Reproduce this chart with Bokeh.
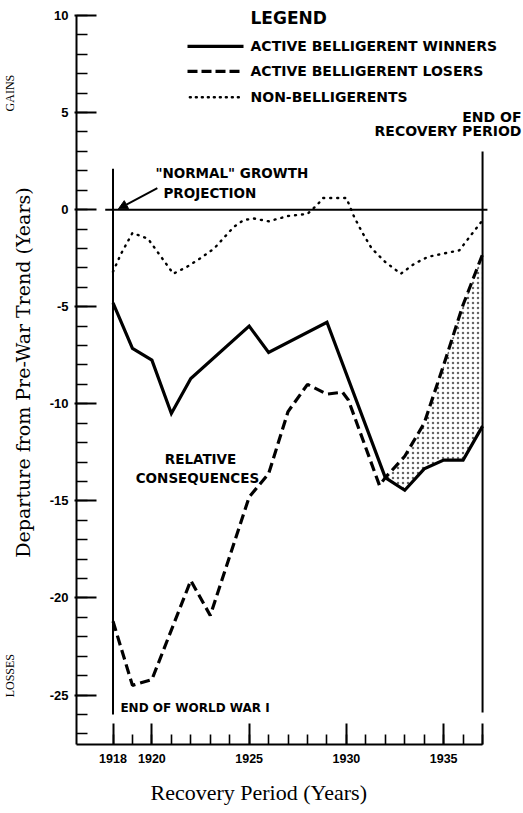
import math
from bokeh.plotting import figure
from bokeh.models import Range1d, FixedTicker, Label, Arrow, NormalHead, LinearAxis, Title
from bokeh.embed import file_html
from bokeh.resources import INLINE

# ---- data ----
winners_years = [1918, 1919, 1920, 1921, 1922, 1925, 1926, 1929, 1932, 1933, 1934, 1935, 1936, 1937]
winners_vals = [-4.8, -7.15, -7.75, -10.5, -8.7, -6.0, -7.35, -5.8, -13.8, -14.45, -13.35, -12.9, -12.9, -11.15]

losers_years = [1918, 1919, 1920, 1922, 1923, 1925, 1926, 1927, 1928, 1929, 1929.8, 1930.1,
                1931.7, 1932, 1933, 1934, 1935, 1936, 1937]
losers_vals = [-21.2, -24.5, -24.2, -19.1, -20.9, -14.8, -13.6, -10.4, -9.0, -9.5, -9.4, -9.8,
               -14.2, -13.8, -12.7, -11.0, -8.0, -4.9, -2.3]

nonbel_years = [1918, 1918.4, 1919, 1919.8, 1921.1, 1921.8, 1922.5, 1923.2, 1924.2, 1924.7, 1925.2,
                1926, 1927, 1928, 1928.5, 1928.8, 1930, 1930.4, 1930.8, 1931.3, 1932, 1932.8,
                1933.5, 1934.2, 1935, 1935.8, 1936.4, 1937]
nonbel_vals = [-3.2, -2.3, -1.2, -1.5, -3.3, -2.95, -2.5, -2.0, -0.9, -0.55, -0.45,
               -0.6, -0.33, -0.22, 0.25, 0.6, 0.6, -0.38, -1.15, -2.0, -2.7, -3.3,
               -2.78, -2.43, -2.26, -2.1, -1.32, -0.55]

war_end_year = 1918
recovery_end_year = 1937
shade_from_year = 1932

x_major_ticks = [1918, 1920, 1925, 1930, 1935, 1937]
x_minor_ticks = list(range(1918, 1938))
y_major_ticks = [-25, -20, -15, -10, -5, 0, 5, 10]
y_minor_ticks = list(range(-27, 11))

series_names = ["ACTIVE BELLIGERENT WINNERS", "ACTIVE BELLIGERENT LOSERS", "NON-BELLIGERENTS"]

# ---- figure ----
X0, X1 = 1916.123, 1939.105
Y0, Y1 = -27.545, 10.77
YTOP = 10.0
p = figure(width=523, height=813, x_range=Range1d(X0, X1), y_range=Range1d(Y0, Y1),
           output_backend="svg", toolbar_location=None, min_border=0,
           min_border_left=76, min_border_right=0, min_border_top=0, min_border_bottom=67)
p.outline_line_color = None
p.xgrid.grid_line_color = None
p.ygrid.grid_line_color = None
p.background_fill_color = "white"
p.border_fill_color = "white"

# x axis
xa = p.xaxis[0]
xa.ticker = FixedTicker(ticks=x_major_ticks, minor_ticks=x_minor_ticks)
xa.major_label_overrides = {1937: " "}
xa.bounds = (X0, recovery_end_year)
xa.major_tick_in = 21
xa.major_tick_out = 0
xa.minor_tick_in = 10
xa.minor_tick_out = 0
xa.axis_line_width = 2
xa.major_tick_line_width = 2
xa.minor_tick_line_width = 1.6
xa.major_label_text_font = "Liberation Sans"
xa.major_label_text_font_style = "bold"
xa.major_label_text_font_size = "12.5px"
xa.major_label_text_color = "black"
xa.major_label_standoff = 7

# y axis
ya = p.yaxis[0]
ya.ticker = FixedTicker(ticks=y_major_ticks, minor_ticks=y_minor_ticks)
ya.major_label_overrides = {v: str(v) for v in y_major_ticks}
ya.bounds = (Y0, YTOP)
ya.major_tick_in = 20
ya.major_tick_out = 2
ya.minor_tick_in = 11
ya.minor_tick_out = 0
ya.axis_line_width = 2
ya.major_tick_line_width = 2
ya.minor_tick_line_width = 1.6
ya.major_label_text_font = "Liberation Sans"
ya.major_label_text_font_style = "bold"
ya.major_label_text_font_size = "13px"
ya.major_label_text_color = "black"
ya.major_label_standoff = 6

# y title (outer, invisible axis carrying only its label)
ytitle_axis = LinearAxis(ticker=FixedTicker(ticks=[]), axis_line_color=None,
                         major_tick_line_color=None, minor_tick_line_color=None,
                         major_tick_in=0, major_tick_out=0, minor_tick_in=0, minor_tick_out=0,
                         major_label_standoff=0,
                         axis_label="Departure from Pre-War Trend (Years)",
                         axis_label_text_font="DejaVu Serif", axis_label_text_font_size="19px",
                         axis_label_text_font_style="normal", axis_label_text_color="black",
                         axis_label_standoff=13)
p.add_layout(ytitle_axis, "left")

# GAINS / LOSSES side words
side_axis = LinearAxis(ticker=FixedTicker(ticks=[6, -24]),
                       major_label_overrides={6: "GAINS", -24: "LOSSES"},
                       major_label_orientation="vertical", bounds=(Y0, YTOP),
                       axis_line_color=None, major_tick_line_color=None, minor_tick_line_color=None,
                       major_tick_in=0, major_tick_out=0, minor_tick_in=0, minor_tick_out=0,
                       major_label_text_font="Liberation Serif", major_label_text_font_size="12px",
                       major_label_text_font_style="normal", major_label_text_color="black",
                       major_label_standoff=-9)
p.add_layout(side_axis, "left")

# x title
p.add_layout(Title(text="Recovery Period (Years)", align="left", offset=74, standoff=18,
                   text_font="Liberation Serif", text_font_size="22px",
                   text_font_style="normal", text_color="black"), "below")

# ---- shaded "relative consequences" region ----
shade_x = [x for x in losers_years if x >= shade_from_year] + \
          [x for x in reversed(winners_years) if x >= shade_from_year]
shade_y = [v for x, v in zip(losers_years, losers_vals) if x >= shade_from_year] + \
          [v for x, v in zip(reversed(winners_years), reversed(winners_vals)) if x >= shade_from_year]
p.patch(shade_x, shade_y, fill_alpha=0, line_color=None,
        hatch_pattern=".", hatch_color="black", hatch_scale=5, hatch_weight=1.2, hatch_alpha=0.6)

# reference lines
p.segment(x0=[1917.6], y0=[0], x1=[1937.25], y1=[0], line_color="black", line_width=2)
p.segment(x0=[war_end_year, recovery_end_year], y0=[-26.0, -25.9],
          x1=[war_end_year, recovery_end_year], y1=[2.1, 3.0], line_color="black", line_width=2)

# series
p.line(winners_years, winners_vals, line_color="black", line_width=3.2, line_join="miter")
p.line(losers_years, losers_vals, line_color="black", line_width=3.2, line_dash="10 5")
p.line(nonbel_years, nonbel_vals, line_color="black", line_width=2.4, line_dash="1 6", line_cap="round")

# legend (hand-drawn)
leg_y = [8.41, 7.12, 5.79]
p.line([1921.83, 1924.71], [leg_y[0]] * 2, line_color="black", line_width=3.2)
p.line([1921.83, 1924.71], [leg_y[1]] * 2, line_color="black", line_width=3.2, line_dash="10 4")
p.line([1921.95, 1924.5], [leg_y[2]] * 2, line_color="black", line_width=2.4, line_dash="1 5", line_cap="round")


def lab(x, y, text, size, font="DejaVu Sans", style="bold", align="left", baseline="middle", angle=0.0):
    p.add_layout(Label(x=x, y=y, text=text, text_font=font, text_font_size=f"{size}px",
                       text_font_style=style, text_align=align, text_baseline=baseline,
                       angle=angle, text_color="black"))


lab(1925.07, 9.85, "LEGEND", 17)
for yy, name in zip(leg_y, series_names):
    lab(1925.07, yy, name, 14)

lab(1920.18, 1.885, "\"NORMAL\" GROWTH", 13.5)
lab(1920.59, 0.86, "PROJECTION", 13.5)
p.add_layout(Arrow(end=NormalHead(size=9, fill_color="black", line_color="black"),
                   x_start=1920.28, y_start=1.11, x_end=1918.28, y_end=0.04,
                   line_width=2, line_color="black"))

lab(1939.0, 4.76, "END OF", 14, align="right")
lab(1939.0, 4.04, "RECOVERY PERIOD", 14, align="right")
lab(1922.5, -12.86, "RELATIVE", 13.5, align="center")
lab(1922.34, -13.83, "CONSEQUENCES", 13.5, align="center")
lab(1918.38, -25.64, "END OF WORLD WAR I", 12)

open("out.html", "w").write(file_html(p, INLINE))
